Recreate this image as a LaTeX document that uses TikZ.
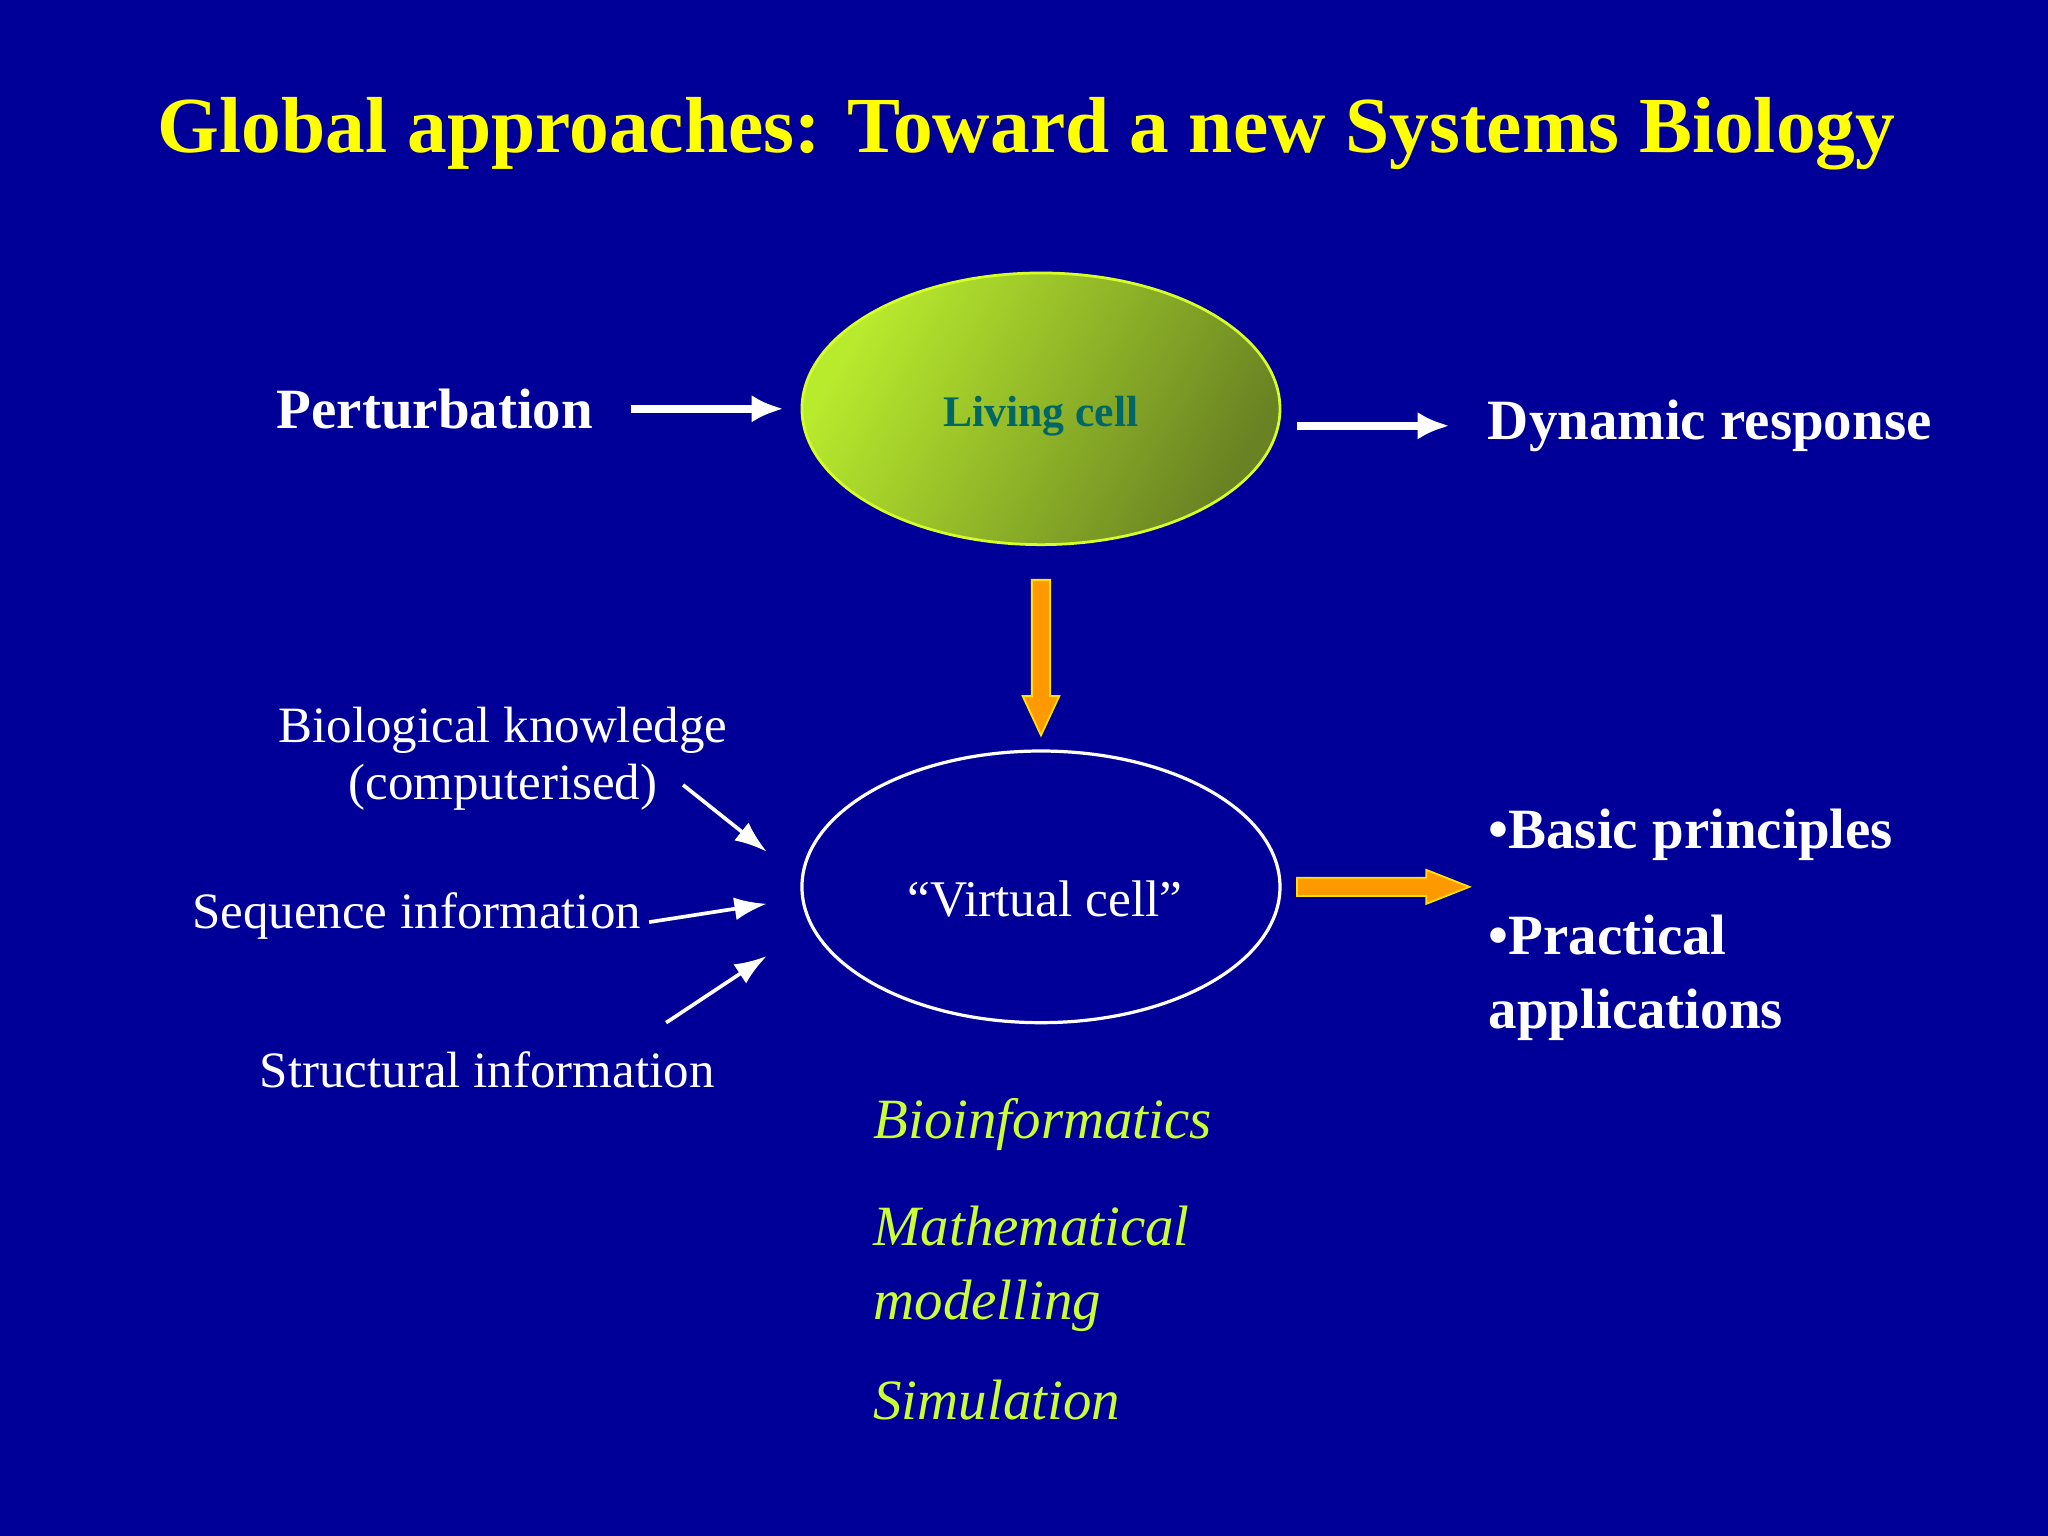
\documentclass[tikz,border=0pt]{standalone}
\usepackage{fontspec}
\setmainfont{Liberation Serif}
\usetikzlibrary{arrows.meta}
\definecolor{bg}{RGB}{0,0,153}
\definecolor{ttl}{RGB}{255,255,0}
\definecolor{lime}{RGB}{204,255,51}
\definecolor{orng}{RGB}{255,153,0}
\definecolor{cellL}{RGB}{185,235,45}
\definecolor{cellR}{RGB}{105,130,35}
\begin{document}
\begin{tikzpicture}[x=0.01cm,y=-0.01cm,
  wt/.style={text=white,inner sep=0pt},
  thin arrow/.style={draw=white,line width=0.8pt,-{Latex[length=7pt,width=5pt]}},
  big arrow/.style={draw=white,line width=1.8pt,-{Latex[length=7pt,width=6pt]}},
  blk/.style={fill=orng,draw=ttl!70!orng,line width=0.4pt}]
\fill[bg] (0,0) rectangle (1568,1176);
\useasboundingbox (0,0) rectangle (1568,1176);
\node[text=ttl,font=\fontsize{17.3}{20}\selectfont\bfseries] (title) at (786,102) {Global approaches: Toward a new Systems Biology};
\shade[left color=cellL,right color=cellR,shading angle=60,draw=lime!80!yellow,line width=0.6pt] (797,313) ellipse [x radius=183,y radius=104];
\node (living) at (797,313) [circle,minimum size=1pt] {};
\node[text=teal!80!black,font=\fontsize{9.5}{11}\selectfont\bfseries] at (797,319) {Living cell};
\draw[white,line width=0.7pt] (797,679) ellipse [x radius=183,y radius=104];
\node[wt,font=\fontsize{11.2}{13}\selectfont] (virtual) at (800,688) {“Virtual cell”};
\node[wt,font=\fontsize{12.4}{15}\selectfont\bfseries] (pert) at (333,313) {Perturbation};
\node[wt,font=\fontsize{12.4}{15}\selectfont\bfseries] (dyn) at (1309,326) {Dynamic response};
\coordinate (p1) at (483,313); \coordinate (p2) at (600,313);
\draw[big arrow] (p1) -- (p2);
\coordinate (d1) at (993,326); \coordinate (d2) at (1110,326);
\draw[big arrow] (d1) -- (d2);
\draw[blk] (790,444) -- (804,444) -- (804,533) -- (811,533) -- (797,563) -- (783,533) -- (790,533) -- cycle;
\draw[blk] (993,672) -- (1092,672) -- (1092,666) -- (1125,679) -- (1092,692) -- (1092,686) -- (993,686) -- cycle;
\node[wt,font=\fontsize{11.1}{13.5}\selectfont,align=center] (bio) at (385,581) {Biological knowledge\\[-1pt](computerised)};
\node[wt,font=\fontsize{11.1}{14}\selectfont] (seq) at (319,701) {Sequence information};
\node[wt,font=\fontsize{11.1}{14}\selectfont] (str) at (373,819) {Structural information};
\coordinate (b1) at (523,601); \coordinate (b2) at (587,652);
\coordinate (s1) at (497,706); \coordinate (s2) at (587,692);
\coordinate (t1) at (510,783); \coordinate (t2) at (587,732);
\draw[thin arrow] (b1) -- (b2);
\draw[thin arrow] (s1) -- (s2);
\draw[thin arrow] (t1) -- (t2);
\node[wt,font=\fontsize{12.4}{15}\selectfont\bfseries,anchor=west] (basic) at (1139,639) {•Basic principles};
\node[wt,font=\fontsize{12.4}{15}\selectfont\bfseries,anchor=north west,align=left] (prac) at (1139,700) {•Practical\\[1pt]applications};
\node[text=lime,font=\fontsize{12.4}{15}\selectfont\itshape,anchor=west,inner sep=0pt] (bi) at (668,861) {Bioinformatics};
\node[text=lime,font=\fontsize{12.4}{15}\selectfont\itshape,anchor=north west,align=left,inner sep=0pt] (mm) at (668,923) {Mathematical\\[1pt]modelling};
\node[text=lime,font=\fontsize{12.4}{15}\selectfont\itshape,anchor=west,inner sep=0pt] (sim) at (668,1072) {Simulation};
\end{tikzpicture}
\end{document}
